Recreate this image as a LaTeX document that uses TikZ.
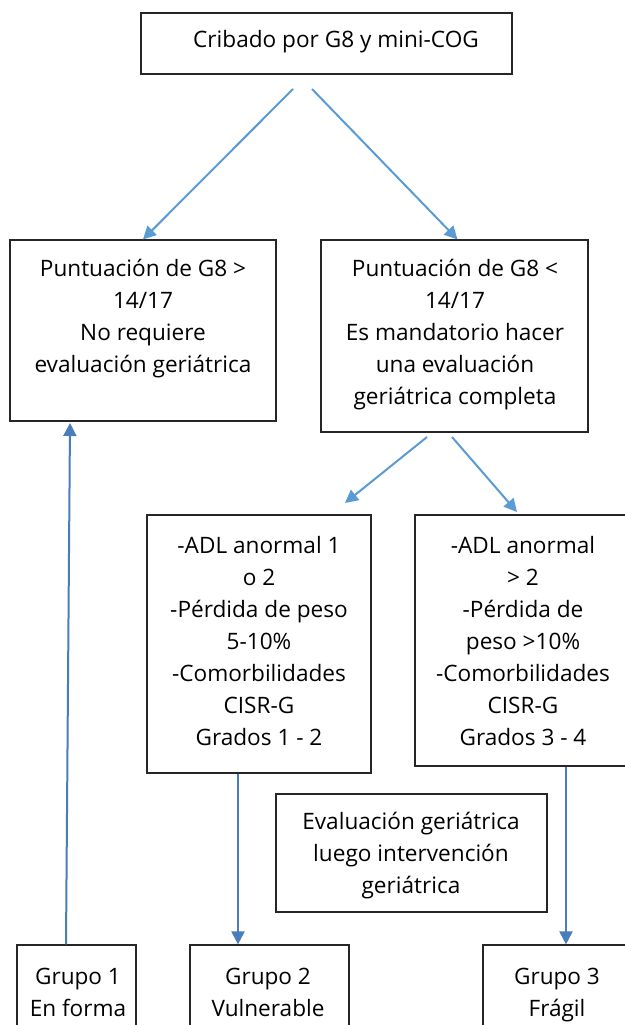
\documentclass[tikz,border=0pt]{standalone}
\usepackage{fontspec}
\setmainfont{Open Sans}
\usetikzlibrary{arrows.meta,calc}
\definecolor{arrA}{HTML}{5B9BD5}
\definecolor{arrB}{HTML}{4A7EBB}
\definecolor{boxc}{HTML}{262626}
\tikzset{
  box/.style={draw=boxc,line width=1.2pt,rectangle,inner sep=0pt},
  txt/.style={align=center,inner sep=0pt,font=\fontsize{22.6}{32}\selectfont},
  arra/.style={draw=arrA,line width=2pt,-{Triangle[length=13pt,width=13pt]}},
  arrb/.style={draw=arrB,line width=2pt,-{Triangle[length=13pt,width=13pt]}}
}
\newcommand{\mybox}[5]{% name, x1,y1,x2,y2
  \node[box,minimum width={#4-#2},minimum height={#5-#3}] (#1) at ({(#2+#4)/2},{(#3+#5)/2}) {};}
\begin{document}
\begin{tikzpicture}[x=1pt,y=-1pt]
\useasboundingbox (0,0) rectangle (624,1025);
\fill[white] (0,0) rectangle (624,1025);
% boxes
\mybox{top}{141}{13}{512}{74}
\mybox{L}{10}{240}{276}{421}
\mybox{R}{321}{240}{588}{432}
\mybox{M}{147}{515}{371}{773}
\mybox{F}{415}{515}{631}{766}
\mybox{E}{276}{794}{547}{912}
\mybox{G1}{17}{945}{136}{1045}
\mybox{G2}{190}{945}{349}{1045}
\mybox{G3}{483}{945}{631}{1045}
% texts
\node[txt] (topt) at (336,42) {Cribado por G8 y mini-COG};
\node[txt] (Lt) at (143,319) {Puntuación de G8 >\\14/17\\No requiere\\evaluación geriátrica};
\node[txt] (Rt) at (455,335) {Puntuación de G8 <\\14/17\\Es mandatorio hacer\\una evaluación\\geriátrica completa};
\node[txt] (Mt) at (259,641) {-ADL anormal 1\\o 2\\-Pérdida de peso\\5-10\%\\-Comorbilidades\\CISR-G\\Grados 1 - 2};
\node[txt] (Ft) at (523,641) {-ADL anormal\\> 2\\-Pérdida de\\peso >10\%\\-Comorbilidades\\CISR-G\\Grados 3 - 4};
\node[txt] (Et) at (411,856) {Evaluación geriátrica\\luego intervención\\geriátrica};
\node[txt] (G1t) at (78,992) {Grupo 1\\En forma};
\node[txt] (G2t) at (268,992) {Grupo 2\\Vulnerable};
\node[txt] (G3t) at (557,995) {Grupo 3\\Frágil};
% connector ends
\coordinate (t1) at (293,89);
\coordinate (t2) at (312,89);
\coordinate (r1) at (427,437);
\coordinate (r2) at (452,437);
\coordinate (m1) at (345,503);
\coordinate (f1) at (517,512);
\coordinate (l1) at (70,423);
\coordinate (xg1) at (66,0);
\coordinate (xg2) at (238,0);
\coordinate (xg3) at (566,0);
% arrows
\draw[arra] (t1) -- (L.north);
\draw[arra] (t2) -- ($(R.north)+(3,0)$);
\draw[arra] (r1) -- (m1);
\draw[arra] (r2) -- (f1);
\draw[arrb] (M.south -| xg2) -- (G2.north -| xg2);
\draw[arrb] (F.south -| xg3) -- (G3.north -| xg3);
\draw[arrb] (G1.north -| xg1) -- (l1);
\end{tikzpicture}
\end{document}
